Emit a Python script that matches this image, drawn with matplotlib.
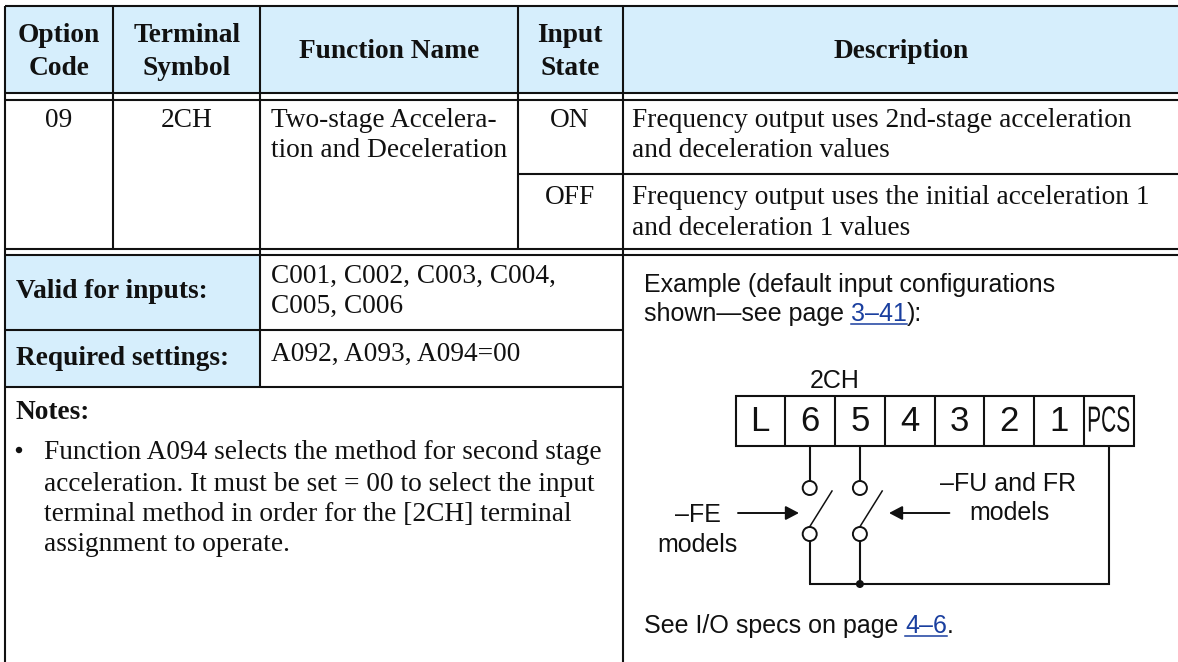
import matplotlib
matplotlib.use("Agg")
import matplotlib.pyplot as plt
from matplotlib.patches import Rectangle, Circle
from matplotlib.patheffects import AbstractPathEffect
from matplotlib.transforms import Affine2D

SERIF = "Liberation Serif"
SANS = "Liberation Sans"
HEAD = "#d6eefc"
LINK = "#1a3f9f"
INK = "#111111"

# header cells
header_one = ["Option", "Terminal", "Input"]
header_two = ["Code", "Symbol", "State"]
header_single = ["Function Name", "Description"]

# table body
row_code = "09"
row_symbol = "2CH"
function_name = ["Two-stage Accelera-", "tion and Deceleration"]
input_states = ["ON", "OFF"]
desc_on = ["Frequency output uses 2nd-stage acceleration", "and deceleration values"]
desc_off = ["Frequency output uses the initial acceleration 1", "and deceleration 1 values"]
valid_label = "Valid for inputs:"
valid_values = ["C001, C002, C003, C004,", "C005, C006"]
required_label = "Required settings:"
required_values = "A092, A093, A094=00"
notes_label = "Notes:"
notes_lines = ["Function A094 selects the method for second stage",
               "acceleration. It must be set = 00 to select the input",
               "terminal method in order for the [2CH] terminal",
               "assignment to operate."]

# wiring diagram
terminals = ["L", "6", "5", "4", "3", "2", "1", "PCS"]
example_line_one = "Example (default input configurations"
example_line_two = ("shown\u2014see page ", "3\u201341", "):")
specs_line = ("See I/O specs on page ", "4\u20136", ".")

fig = plt.figure(figsize=(11.78, 6.62), dpi=100, facecolor="white")
ax = fig.add_axes([0, 0, 1, 1])
ax.set_xlim(0, 1178)
ax.set_ylim(662, 0)
ax.axis("off")

LW = 1.5
SERIF_SIZE = 19.75
SANS_SIZE = 18


class Squeeze(AbstractPathEffect):
    # narrow a text sideways around one x position, for the condensed PCS label
    def __init__(self, sx, cx):
        super().__init__()
        self.sx = sx
        self.cx = cx

    def draw_path(self, renderer, gc, tpath, affine, rgbFace=None):
        squeeze = Affine2D().translate(-self.cx, 0).scale(self.sx, 1).translate(self.cx, 0)
        renderer.draw_path(gc, tpath, affine + squeeze, rgbFace)


def hline(y, x0=5, x1=1178, lw=LW):
    ax.plot([x0, x1], [y, y], color=INK, lw=lw, solid_capstyle="butt", zorder=3)


def vline(x, y0, y1, lw=LW):
    ax.plot([x, x], [y0, y1], color=INK, lw=lw, solid_capstyle="butt", zorder=3)


def serif(x, y, s, bold=False, ha="left"):
    ax.text(x, y, s, family=SERIF, fontsize=SERIF_SIZE, color=INK, ha=ha, va="baseline",
            fontweight="bold" if bold else "normal")


def sans(x, y, s, ha="left", size=SANS_SIZE):
    return ax.text(x, y, s, family=SANS, fontsize=size, color=INK, ha=ha, va="baseline")


def linked(x, y, parts):
    # plain text, underlined link, plain text, laid out one after another
    r = fig.canvas.get_renderer()
    for i, s in enumerate(parts):
        t = sans(x, y, s.replace(" ", "\u00a0"))
        if i == 1:
            t.set_color(LINK)
        x1 = ax.transData.inverted().transform(t.get_window_extent(r))[1][0]
        if i == 1:
            ax.plot([x, x1], [y + 2.8, y + 2.8], color=LINK, lw=1.1, zorder=3)
        x = x1


# shaded cells
ax.add_patch(Rectangle((5, 6), 1173, 87, fc=HEAD, ec="none", zorder=1))
ax.add_patch(Rectangle((5, 255), 255, 132, fc=HEAD, ec="none", zorder=1))

# grid
hline(6)
hline(93)
hline(99.5)
hline(248.7)
hline(255)
hline(173.7, 518, 1178)
hline(329.7, 5, 623)
hline(386.7, 5, 623)
vline(5, 6, 662)
vline(113, 6, 248.7)
vline(260, 6, 386.7)
vline(518, 6, 248.7)
vline(623, 6, 662)

# header
for cx, one, two in zip([59, 187, 570], header_one, header_two):
    serif(cx, 41.7, one, bold=True, ha="center")
    serif(cx, 75, two, bold=True, ha="center")
serif(389, 58, header_single[0], bold=True, ha="center")
serif(901, 58, header_single[1], bold=True, ha="center")

# body
serif(59, 126.7, row_code, ha="center")
serif(187, 126.7, row_symbol, ha="center")
serif(270.6, 126.7, function_name[0])
serif(270.6, 157.3, function_name[1])
serif(570, 126.7, input_states[0], ha="center")
serif(570, 204, input_states[1], ha="center")
serif(632, 126.7, desc_on[0])
serif(632, 157.3, desc_on[1])
serif(632, 204, desc_off[0])
serif(632, 235, desc_off[1])

serif(16, 297.7, valid_label, bold=True)
serif(270.6, 283.3, valid_values[0])
serif(270.6, 312.7, valid_values[1])
serif(16, 365, required_label, bold=True)
serif(270.6, 360.7, required_values)
serif(16, 419.3, notes_label, bold=True)
ax.add_patch(Circle((19, 450), 3.2, fc=INK, ec="none", zorder=3))
for y, line in zip([459.3, 490.7, 520.7, 550.7], notes_lines):
    serif(44, y, line)

# example text
sans(643.7, 291.7, example_line_one)
linked(643.7, 320.7, example_line_two)
linked(643.5, 632.7, specs_line)

# terminal strip
edges = [735.6, 784.7, 834.8, 885, 935, 984, 1034, 1083.6, 1133.7]
ax.add_patch(Rectangle((735.6, 396), 398.1, 49.7, fc="none", ec=INK, lw=LW, zorder=3))
for x in edges[1:-1]:
    vline(x, 396, 445.7)
for left, right, name in zip(edges[:-1], edges[1:], terminals):
    cx = (left + right) / 2
    if name == "PCS":
        t = sans(cx, 431.5, name, ha="center", size=26)
        t.set_path_effects([Squeeze(0.58, cx)])
    else:
        sans(cx, 431, name, ha="center", size=25)
sans(834.4, 387.7, "2CH", ha="center")

# switches
for x in [809.7, 859.9]:
    vline(x, 445.7, 481.5)
    ax.add_patch(Circle((x, 488), 7, fc="white", ec=INK, lw=1.4, zorder=3))
    ax.add_patch(Circle((x, 534), 7, fc="white", ec=INK, lw=1.4, zorder=3))
    ax.plot([x, x + 22.3], [526.7, 491], color=INK, lw=1.1, zorder=3)
    vline(x, 540.5, 584)
hline(584, 809, 1109.8)
vline(1109, 445.7, 584.7)
ax.add_patch(Circle((859.9, 584), 4, fc=INK, ec="none", zorder=4))

# arrows
for tip, tail in [(799, 738), (889, 949.4)]:
    ax.annotate("", xy=(tip, 513), xytext=(tail, 513),
                arrowprops=dict(arrowstyle="-|>,head_length=0.8,head_width=0.42", color=INK, lw=1.4,
                                shrinkA=0, shrinkB=0))

sans(697.7, 522.3, "\u2013FE", ha="center")
sans(697.7, 551.7, "models", ha="center")
sans(1008.4, 491, "\u2013FU and FR", ha="center")
sans(1009, 520, "models", ha="center")

fig.savefig("out.png", dpi=100)
